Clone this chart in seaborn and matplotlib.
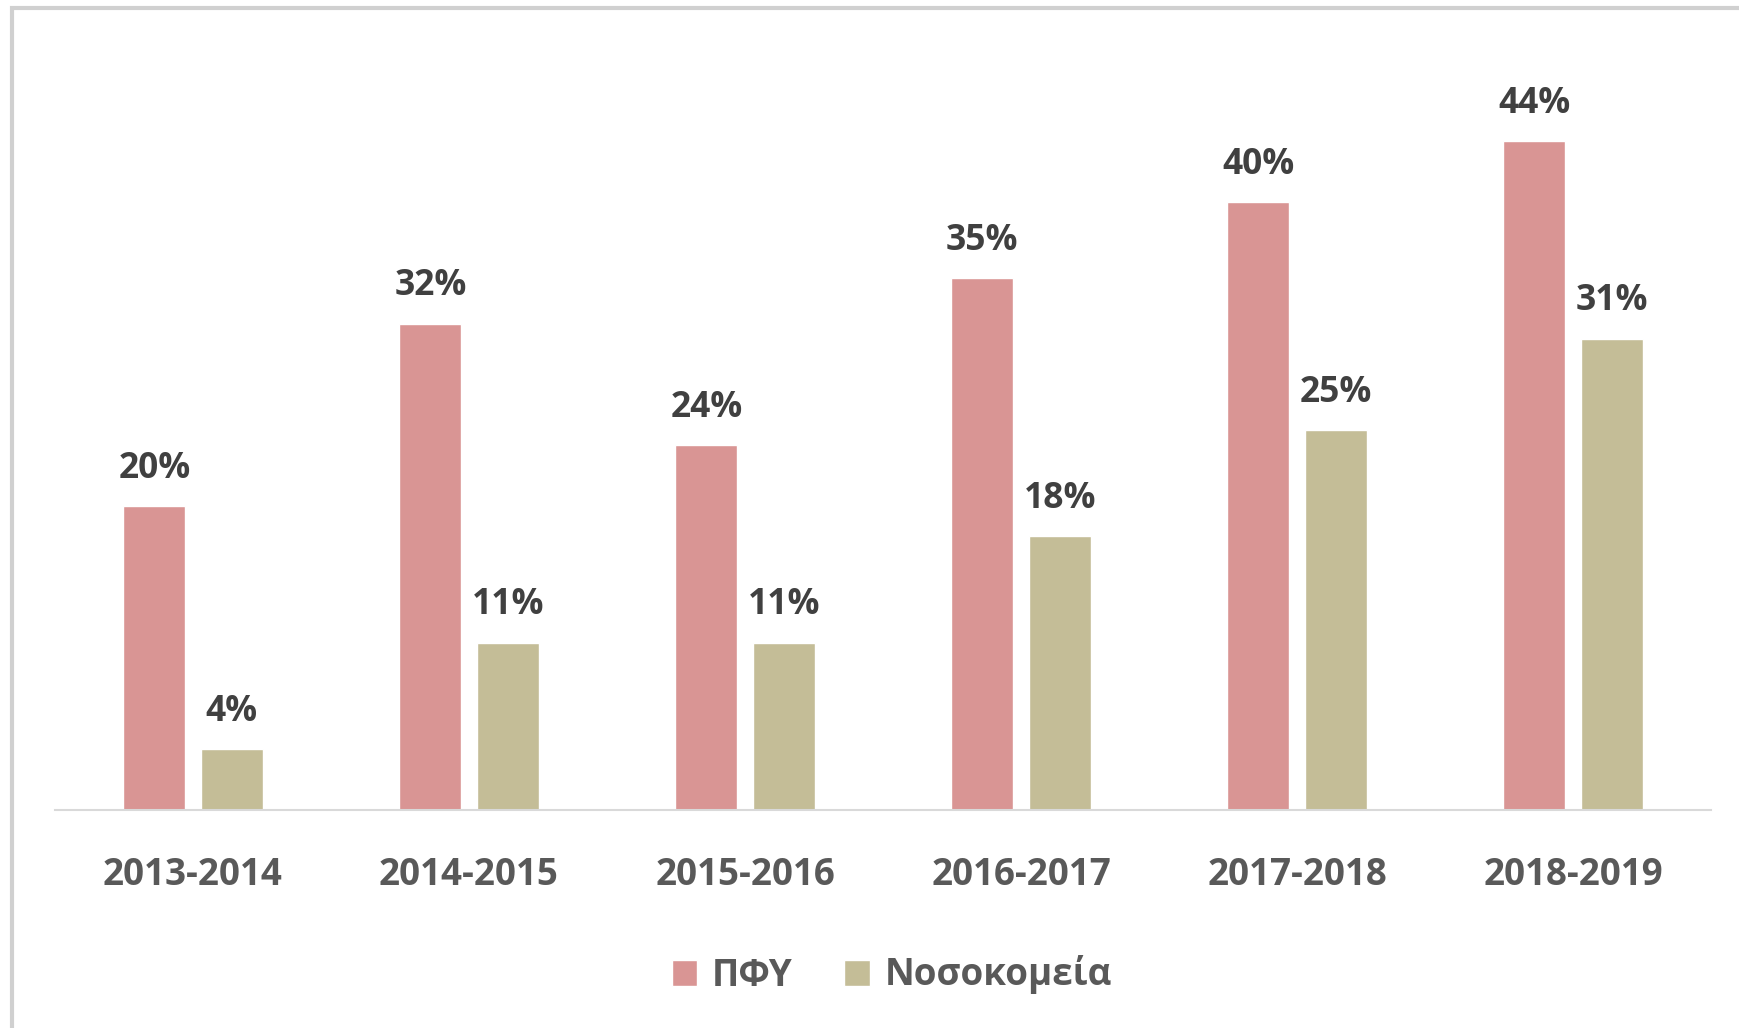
import matplotlib
matplotlib.use('Agg')
import matplotlib.pyplot as plt
import seaborn as sns
import pandas as pd
from matplotlib.patches import Rectangle

# ============================================================
# Data
# ============================================================
years = ['2013-2014', '2014-2015', '2015-2016', '2016-2017', '2017-2018', '2018-2019']
pfy = [20, 32, 24, 35, 40, 44]
hospitals = [4, 11, 11, 18, 25, 31]
series_names = ['ΠΦΥ', 'Νοσοκομεία']
colors = ['#D99594', '#C4BD97']

df = pd.DataFrame({
    'year': years * 2,
    'value': pfy + hospitals,
    'series': [series_names[0]] * len(years) + [series_names[1]] * len(years),
})

sns.set_theme(style='white')
plt.rcParams['font.family'] = ['Open Sans', 'DejaVu Sans']
plt.rcParams['font.weight'] = 'bold'

W, H = 1739, 1028
fig = plt.figure(figsize=(W / 100, H / 100), dpi=100)
ax = fig.add_axes([55 / W, 1 - 810 / H, (1711 - 55) / W, 760 / H])

sns.barplot(data=df, x='year', y='value', hue='series', palette=colors,
            width=0.56, gap=0.2, ax=ax, legend=True, saturation=1)

ax.set_ylim(0, 50)
ax.set_xlim(-0.5, len(years) - 0.5)

for c in ax.containers:
    ax.bar_label(c, labels=[f'{int(v)}%' for v in c.datavalues], padding=14,
                 fontsize=25.5, fontweight='bold', color='#404040')

for s in ['top', 'right', 'left']:
    ax.spines[s].set_visible(False)
ax.spines['bottom'].set_color('#D9D9D9')
ax.spines['bottom'].set_linewidth(1.5)
ax.set_yticks([])
ax.set_xlabel('')
ax.set_ylabel('')
ax.tick_params(axis='x', length=0, pad=33, labelsize=26.5, labelcolor='#595959')
for t in ax.get_xticklabels():
    t.set_fontweight('bold')

leg = ax.legend(loc='center', bbox_to_anchor=(892 / W, 1 - 975 / H),
                bbox_transform=fig.transFigure, ncol=2, frameon=False,
                fontsize=26.5, handlelength=0.7, handleheight=0.7,
                handletextpad=0.4, columnspacing=1.4)
for t in leg.get_texts():
    t.set_color('#595959')
    t.set_fontweight('bold')

# light frame around the chart area
fig.patches.append(Rectangle((12 / W, -0.05), 1.2, 1 - 8 / H + 0.05,
                             transform=fig.transFigure, fill=False,
                             edgecolor='#D0D0D0', linewidth=3, zorder=-1))

fig.savefig('out.png', dpi=100)
